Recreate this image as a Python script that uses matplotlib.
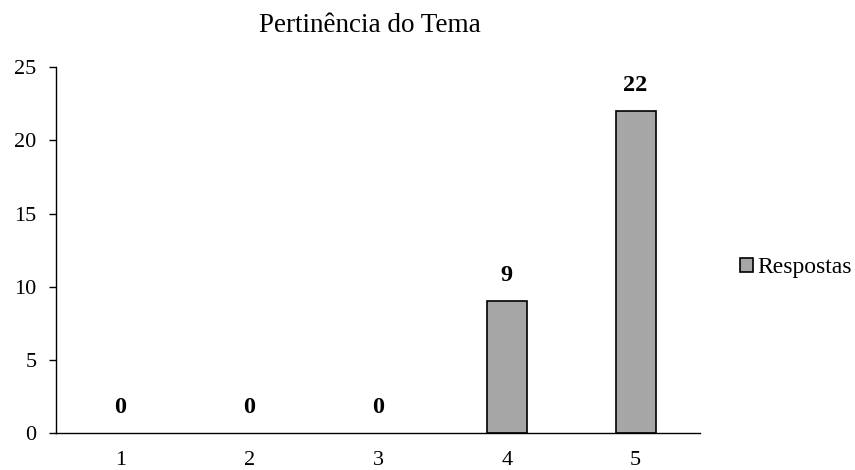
import matplotlib
matplotlib.use("Agg")
import matplotlib.pyplot as plt
from matplotlib.patches import Patch

categories = ["1", "2", "3", "4", "5"]
respostas = [0, 0, 0, 9, 22]
yticks = [0, 5, 10, 15, 20, 25]

plt.rcParams['font.family'] = ['Liberation Serif', 'DejaVu Serif']

fig = plt.figure(figsize=(8.55, 4.7), dpi=100)
ax = fig.add_axes([0.0655, 0.0787, 0.7532, 0.7783])

x = list(range(len(categories)))
lws = [1.2 if v > 0 else 0 for v in respostas]
ax.bar(x, respostas, width=0.31, color="#a6a6a6", edgecolor="black", linewidth=lws)
for xi, v in zip(x, respostas):
    ax.annotate(str(v), (xi, v), xytext=(0, 18.5), textcoords="offset points",
                ha="center", va="center", fontsize=17.5, fontweight="bold")

ax.set_xlim(-0.5, len(categories) - 0.5)
ax.set_ylim(0, 25)
ax.set_yticks(yticks)
ax.set_xticks(x)
ax.set_xticklabels(categories)
ax.tick_params(axis="x", length=0, labelsize=16, pad=13)
ax.tick_params(axis="y", length=5, width=1, labelsize=16, direction="out", pad=9)
for s in ["top", "right"]:
    ax.spines[s].set_visible(False)
ax.spines["left"].set_linewidth(1)
ax.spines["bottom"].set_linewidth(1)

fig.text(0.433, 0.945, "Pertinência do Tema", ha="center", va="center", fontsize=19.5)

handle = Patch(facecolor="#a6a6a6", edgecolor="black", linewidth=1.2)
fig.legend([handle], ["Respostas"], loc="center left", bbox_to_anchor=(0.866, 0.43),
           frameon=False, fontsize=17, handlelength=0.55, handleheight=0.55, handletextpad=0.15,
           borderaxespad=0, borderpad=0)

fig.savefig("out.png", dpi=100)
